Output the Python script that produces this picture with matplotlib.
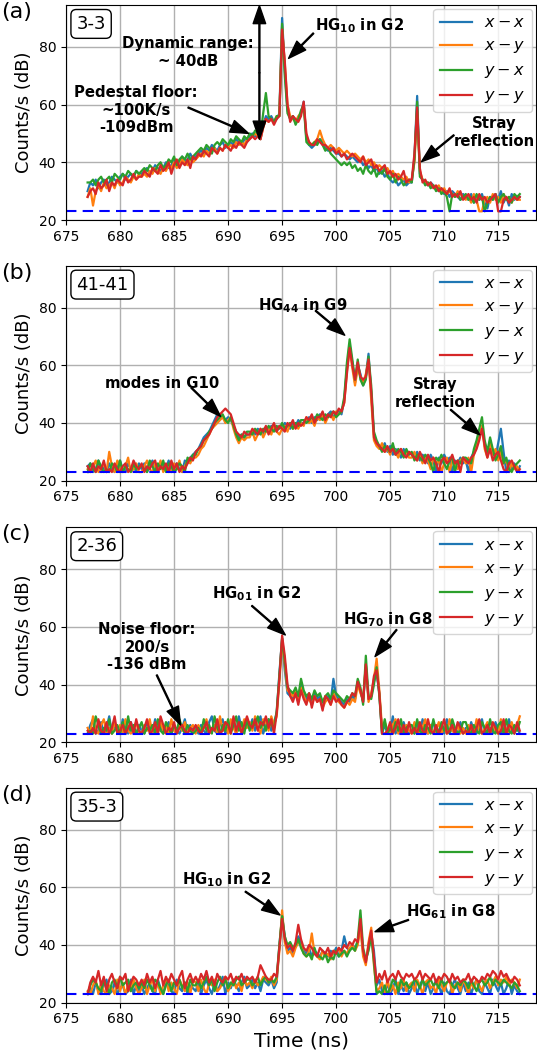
import numpy as np
import matplotlib
matplotlib.use("Agg")
import matplotlib.pyplot as plt

# time axis: 677 .. 717 ns, 0.25 ns step
t0, dt = 677.0, 0.25

# ---------------- panel (a) 3-3 ----------------
a_xx = [30,33,32,34,31,33,34,32,33,35,34,33,35,36,34,35,36,35,37,36,
        36,37,38,36,37,39,38,37,38,40,38,39,41,39,40,42,40,41,43,41,
        42,43,44,43,45,44,46,45,44,46,47,45,46,47,46,48,47,46,48,47,
        49,50,49,50,48,53,56,55,56,54,55,57,90,72,58,55,56,54,55,57,
        61,48,46,45,46,47,48,47,45,44,45,44,43,43,42,43,42,41,42,41,
        40,41,39,40,38,39,37,38,36,37,35,36,34,33,34,32,33,34,32,33,
        33,42,63,36,34,33,32,33,32,31,30,31,29,30,28,30,29,28,27,29,
        28,27,29,26,28,27,29,26,24,28,27,29,27,30,26,28,25,29,27,28,28]
a_xy = [28,31,25,30,32,30,33,31,32,33,31,34,32,33,35,34,33,35,34,36,
        35,36,35,37,36,38,37,36,38,37,39,38,40,38,39,41,40,39,41,40,
        41,42,43,42,44,43,44,45,43,45,44,46,45,46,45,47,46,47,46,48,
        48,49,50,49,48,52,55,54,55,54,56,56,87,74,60,56,55,54,56,57,
        60,49,47,46,47,48,51,48,46,45,46,45,44,45,44,43,44,43,42,43,
        42,41,42,40,41,39,40,38,39,38,37,38,36,37,35,36,35,34,35,33,
        34,40,58,37,34,33,33,32,32,31,32,30,31,29,30,29,28,30,29,28,
        27,28,26,29,27,23,23,27,28,26,29,27,28,26,29,27,28,26,28,27,27]
a_yx = [33,33,34,32,34,35,33,34,35,33,36,35,34,36,35,37,36,35,37,36,
        37,38,37,39,38,37,39,40,38,39,41,40,42,39,41,42,41,43,41,42,
        43,44,45,44,46,45,43,46,47,46,48,47,46,48,47,49,48,47,49,48,
        50,49,51,50,49,57,64,56,55,54,56,56,88,70,57,55,56,53,55,58,
        60,47,46,46,47,46,48,46,44,45,43,42,41,40,39,40,39,40,38,39,
        37,38,36,39,37,36,38,35,37,36,38,35,34,36,33,35,34,32,33,34,
        33,41,61,35,34,32,33,31,32,30,31,29,30,28,23,29,28,29,27,28,
        29,27,28,26,29,27,28,23,26,28,27,29,26,28,29,27,28,26,29,28,29]
a_yy = [28,30,31,29,33,31,32,34,30,33,32,34,33,32,35,33,34,36,34,35,
        35,37,36,35,38,37,36,39,37,38,40,36,39,41,38,40,39,41,38,42,
        41,43,42,44,43,42,45,44,43,45,44,46,45,44,46,45,47,46,45,47,
        48,49,48,49,48,52,55,54,55,53,55,56,86,75,60,54,56,55,54,56,
        61,50,47,46,46,48,47,46,46,45,44,45,43,44,42,43,41,42,43,42,
        41,40,42,39,40,41,38,39,37,38,39,36,37,35,36,34,35,37,33,34,
        34,43,59,38,33,34,32,33,31,32,30,31,30,29,31,28,29,28,30,27,
        28,29,27,28,26,29,27,28,26,27,28,29,23,23,27,28,26,27,28,27,28]

# ---------------- panel (b) 41-41 ----------------
b_xx = [25,26,23,24,27,23,25,23,26,24,23,25,27,24,23,26,24,25,23,26,
        24,26,23,25,27,24,23,26,25,24,27,23,25,26,24,23,27,26,28,29,
        30,31,33,35,36,37,39,41,43,42,42,41,42,41,39,37,35,36,35,36,
        36,37,36,38,37,36,38,37,39,38,37,39,38,40,39,38,40,39,41,40,
        40,41,42,40,42,41,43,42,41,43,44,42,43,44,43,48,59,67,61,54,
        60,57,53,56,64,50,36,33,32,31,33,30,32,29,31,30,28,31,29,30,
        29,28,30,27,29,28,26,29,27,23,28,26,29,27,28,23,27,26,28,26,
        27,23,28,30,33,36,38,33,29,34,30,28,33,38,30,23,27,24,26,23,25]
b_xy = [24,23,25,27,23,24,26,23,30,25,23,27,24,23,25,28,23,24,26,23,
        23,25,27,24,23,26,24,27,23,25,24,23,26,24,27,23,25,27,26,28,
        28,29,31,32,34,36,38,39,40,41,42,40,41,42,38,35,33,35,34,35,
        35,37,34,36,38,35,37,38,36,39,37,36,38,39,37,40,38,39,38,40,
        39,42,40,41,39,42,41,43,40,42,43,41,44,43,44,47,58,66,59,53,
        59,56,54,57,62,48,34,32,31,33,30,31,29,32,30,28,31,29,30,28,
        28,30,27,29,26,28,27,24,28,26,27,23,26,28,23,27,26,24,27,28,
        26,28,23,29,32,35,39,31,28,33,29,31,27,30,26,27,23,26,24,25,23]
b_yx = [23,26,24,23,27,25,23,24,23,26,25,23,27,23,25,24,23,26,24,25,
        25,24,23,27,25,23,26,24,27,23,26,25,23,24,26,25,23,28,27,29,
        29,31,32,34,35,37,38,40,41,42,43,41,40,42,39,36,34,36,35,37,
        37,36,38,37,36,38,37,39,38,37,39,38,40,38,39,40,38,40,39,41,
        41,40,41,42,41,43,42,41,43,42,43,44,42,43,44,49,61,69,62,55,
        62,55,53,55,63,53,37,34,32,30,32,31,30,33,29,31,30,28,31,29,
        30,27,29,28,27,29,28,26,23,28,27,29,26,24,27,28,23,27,26,28,
        28,27,26,31,34,38,42,34,30,35,31,27,29,32,26,28,24,23,25,26,27]
b_yy = [25,23,26,23,25,24,27,23,24,23,26,24,23,25,26,23,24,27,25,24,
        26,23,25,24,26,27,23,25,24,26,23,27,24,26,23,25,24,26,28,27,
        30,31,32,34,35,36,38,40,42,43,44,45,44,43,40,37,36,35,37,36,
        36,38,37,36,38,37,39,36,38,40,37,39,38,37,40,39,41,38,40,39,
        40,42,41,43,40,42,42,44,41,43,42,44,43,45,44,47,57,66,60,55,
        61,56,55,56,62,51,35,33,32,31,30,32,30,31,29,30,31,29,28,30,
        29,28,27,30,28,26,29,27,28,26,23,27,28,26,27,29,26,27,23,28,
        27,26,28,29,31,34,38,32,28,31,27,29,30,27,24,23,26,27,25,23,24]

# ---------------- panel (c) 2-36 ----------------
c_xx = [23,26,28,23,24,27,23,25,29,23,26,24,23,28,25,23,27,24,23,26,
        24,23,27,25,23,28,24,26,23,25,27,23,26,24,23,25,28,23,26,24,
        25,23,26,24,23,27,29,24,23,26,28,23,25,24,27,23,29,25,24,26,
        25,28,24,27,29,23,26,28,24,27,30,44,56,45,37,36,35,37,34,40,
        37,35,36,34,37,35,36,33,35,36,34,42,36,35,34,33,35,34,36,35,
        41,38,34,46,35,36,41,44,37,23,26,23,24,29,23,25,23,27,24,23,
        24,23,26,23,28,24,23,25,27,23,24,26,23,28,23,25,24,23,27,23,
        25,23,27,24,23,26,28,23,24,25,23,27,24,23,26,23,28,24,23,25,23]
c_xy = [25,23,29,24,23,26,28,23,25,23,27,24,26,23,28,24,23,25,27,23,
        23,26,24,28,23,25,23,27,24,26,23,28,24,23,26,24,27,23,25,26,
        23,26,24,25,28,23,24,26,23,29,24,27,23,28,25,23,26,24,28,25,
        27,24,29,25,23,28,27,24,29,26,29,41,55,47,38,37,36,38,35,39,
        36,34,35,33,36,34,35,32,34,35,33,37,35,34,33,32,34,33,35,34,
        40,37,35,47,34,37,42,49,38,25,27,24,23,26,28,23,25,23,26,24,
        23,27,24,23,25,28,23,26,23,24,27,23,25,23,28,24,23,26,23,25,
        23,26,24,23,28,24,23,25,27,23,26,24,23,28,23,25,23,27,24,26,29]
c_yx = [23,24,23,29,26,23,25,24,28,23,24,26,23,27,23,29,24,26,23,25,
        27,23,25,24,26,23,28,24,23,27,25,23,26,24,28,25,23,26,24,23,
        24,25,23,28,24,26,23,29,25,23,26,24,28,23,26,29,24,27,23,28,
        24,27,26,29,25,27,24,28,26,25,31,43,56,48,39,38,37,39,36,42,
        38,36,37,35,38,36,37,34,36,37,35,38,37,36,35,34,36,35,37,36,
        42,39,33,50,36,35,40,46,36,23,28,23,25,23,27,24,28,23,25,26,
        26,23,28,24,23,26,25,23,28,24,23,27,24,26,23,28,25,23,24,27,
        27,24,23,26,24,23,27,25,23,28,24,23,26,27,23,28,24,23,26,24,27]
c_yy = [24,23,25,23,28,24,23,27,23,25,29,23,24,26,23,25,27,23,28,24,
        23,25,28,23,24,27,23,29,26,23,25,24,27,23,25,26,24,23,25,24,
        26,24,23,25,27,23,25,24,28,23,24,27,26,23,29,24,27,23,26,29,
        26,25,28,24,27,26,29,25,28,23,30,42,57,50,40,36,34,37,33,38,
        35,33,37,32,36,34,35,31,36,35,33,36,34,35,33,32,34,35,37,36,
        41,38,34,47,35,36,43,45,37,23,23,24,27,23,25,28,23,26,23,27,
        23,25,23,27,24,23,28,24,23,26,23,25,28,23,24,26,23,27,25,23,
        24,23,26,23,25,28,23,24,26,23,27,25,23,24,28,23,26,25,23,27,24]

# ---------------- panel (d) 35-3 ----------------
d_xx = [23,25,23,27,24,23,26,28,23,24,27,23,25,26,23,24,28,23,26,24,
        26,23,25,27,24,23,28,25,23,27,26,24,23,28,25,24,27,23,26,25,
        24,27,23,26,28,25,23,27,24,26,29,23,27,25,28,26,24,27,29,25,
        26,28,25,27,24,28,27,26,28,25,27,40,50,43,38,39,37,40,43,41,
        38,37,39,36,38,37,36,38,37,36,38,37,39,36,38,43,39,38,40,39,
        41,47,37,34,39,44,38,26,28,24,23,27,23,25,28,23,26,24,27,23,
        25,27,23,26,28,24,27,23,25,28,26,23,27,24,23,26,28,25,23,27,
        24,27,23,26,28,24,23,27,25,23,28,26,24,27,23,25,28,23,26,24,23]
d_xy = [24,23,26,28,23,27,24,23,26,25,23,28,24,27,23,26,24,28,25,23,
        25,28,23,26,28,24,27,23,26,28,24,27,25,23,28,26,24,27,23,28,
        27,24,28,25,23,27,26,28,24,25,27,29,24,26,28,25,27,24,28,26,
        27,25,28,26,27,29,28,27,29,26,28,38,52,41,37,38,36,39,41,40,
        37,36,38,44,37,36,35,38,36,37,35,38,37,39,36,38,37,39,40,38,
        40,46,36,33,41,46,33,24,25,27,23,28,24,26,23,27,25,28,24,26,
        27,24,28,26,23,27,28,25,26,23,28,26,24,27,28,23,26,27,24,28,
        26,23,27,25,28,26,24,27,28,25,27,29,26,28,27,29,26,28,27,25,28]
d_yx = [23,26,28,27,25,24,28,26,23,27,28,25,29,26,27,28,24,26,27,25,
        27,25,28,26,24,28,27,25,23,26,28,24,27,26,28,25,27,24,28,26,
        26,28,25,27,29,26,28,24,27,29,26,28,25,27,26,28,29,26,27,28,
        28,26,27,29,26,28,29,27,28,27,29,40,50,43,40,41,39,40,42,39,
        37,36,37,35,39,36,36,35,37,34,36,35,38,36,37,38,36,38,39,38,
        42,52,39,35,38,43,34,23,24,23,26,23,25,28,27,24,28,26,27,25,
        26,28,27,25,28,26,27,28,26,27,25,28,26,27,28,26,25,27,26,28,
        27,25,28,26,24,27,28,26,27,29,26,28,27,26,28,27,26,25,27,26,24]
d_yy = [23,27,29,27,31,26,29,24,28,30,27,25,29,28,30,24,27,29,28,26,
        28,26,30,27,29,25,28,31,26,29,27,30,28,26,29,31,25,28,30,27,
        29,27,30,28,31,27,29,26,30,28,27,29,28,30,27,29,28,30,27,29,
        28,29,27,29,33,31,29,28,28,30,29,39,49,42,39,40,38,41,47,42,
        39,38,40,39,37,36,39,38,37,39,36,38,37,39,38,40,39,41,40,42,
        41,49,38,34,40,45,36,27,30,28,31,27,29,30,28,31,29,28,30,29,
        30,28,29,31,28,30,29,28,30,27,29,28,30,29,27,30,28,29,27,28,
        28,30,27,29,28,27,29,28,30,29,31,30,28,31,29,30,28,27,29,28,26]

series_labels = [r'$x-x$', r'$x-y$', r'$y-x$', r'$y-y$']
series_colors = ['#1f77b4', '#ff7f0e', '#2ca02c', '#d62728']
panel_tags = ['(a)', '(b)', '(c)', '(d)']
panel_names = ['3-3', '41-41', '2-36', '35-3']
panels = [[a_xx, a_xy, a_yx, a_yy], [b_xx, b_xy, b_yx, b_yy],
          [c_xx, c_xy, c_yx, c_yy], [d_xx, d_xy, d_yx, d_yy]]
noise_floor = 23
xticks = [675, 680, 685, 690, 695, 700, 705, 710, 715]
yticks = [20, 40, 60, 80]

W, H = 537, 1059
fig = plt.figure(figsize=(W / 100, H / 100), dpi=100)
ax_left, ax_w = 66 / W, 470 / W
ax_h = 215 / H
bottoms_px = [220, 480.7, 742.3, 1002.7]

def arrow(ax, head, tail):
    ax.annotate('', xy=head, xytext=tail, zorder=7,
                arrowprops=dict(facecolor='black', edgecolor='black',
                                width=0.7, headwidth=9, headlength=13, shrink=0))

def label(ax, x, y, s):
    ax.text(x, y, s, ha='center', va='center', fontweight='bold', fontsize=10.7,
            linespacing=1.2, zorder=7)

axes = []
for k in range(4):
    ax = fig.add_axes([ax_left, 1 - bottoms_px[k] / H, ax_w, ax_h])
    axes.append(ax)
    for ys, lab, col in zip(panels[k], series_labels, series_colors):
        tt = t0 + dt * np.arange(len(ys))
        ax.plot(tt, ys, color=col, lw=1.6, label=lab)
    ax.axhline(noise_floor, color='blue', ls='--', lw=1.5, dashes=(5, 3))
    ax.set_xlim(675, 718.5)
    ax.set_ylim(20, 94.5)
    ax.set_xticks(xticks)
    ax.set_yticks(yticks)
    ax.tick_params(labelsize=10)
    ax.grid(True, color='#b0b0b0', lw=1)
    ax.set_axisbelow(True)
    ax.set_ylabel('Counts/s (dB)', fontsize=13)
    ax.legend(loc='upper right', fontsize=11.5, handlelength=2.0,
              borderaxespad=0.25, labelspacing=0.5)
    ax.text(0.022, 0.912, panel_names[k], transform=ax.transAxes, fontsize=13,
            ha='left', va='center',
            bbox=dict(boxstyle='round,pad=0.3', fc='white', ec='black', lw=1))
    top_px = bottoms_px[k] - 215
    fig.text(1 / W, 1 - (top_px + 7) / H, panel_tags[k], fontsize=16,
             ha='left', va='center')

ax = axes[0]
label(ax, 686.3, 78, 'Dynamic range:\n~ 40dB')
arrow(ax, (692.9, 94.3), (692.9, 71))
arrow(ax, (692.9, 48), (692.9, 71))
label(ax, 681.5, 58, 'Pedestal floor:\n~100K/s\n-109dBm')
arrow(ax, (691.9, 50), (686.3, 59))
label(ax, 702.2, 87.5, r'HG$_\mathbf{10}$ in G2')
arrow(ax, (695.6, 76), (697.9, 84.7))
label(ax, 714.6, 50.3, 'Stray\nreflection')
arrow(ax, (707.9, 40.2), (710.9, 49.4))

ax = axes[1]
label(ax, 683.9, 53.7, 'modes in G10')
arrow(ax, (689.3, 42.3), (686.6, 52.2))
label(ax, 696.9, 80.6, r'HG$_\mathbf{44}$ in G9')
arrow(ax, (700.8, 70.4), (698.1, 78.9))
label(ax, 709.2, 50.2, 'Stray\nreflection')
arrow(ax, (713.3, 35.9), (710.6, 44.6))

ax = axes[2]
label(ax, 682.5, 53, 'Noise floor:\n200/s\n-136 dBm')
arrow(ax, (685.6, 26), (683.4, 43.3))
label(ax, 692.6, 71.6, r'HG$_\mathbf{01}$ in G2')
arrow(ax, (695.3, 57.2), (692.2, 67.3))
label(ax, 704.8, 62.5, r'HG$_\mathbf{70}$ in G8')
arrow(ax, (703.6, 49.7), (705.6, 59))

ax = axes[3]
label(ax, 689.9, 62.6, r'HG$_\mathbf{10}$ in G2')
arrow(ax, (694.8, 50.4), (691.6, 58.5))
label(ax, 710.6, 51.6, r'HG$_\mathbf{61}$ in G8')
arrow(ax, (703.6, 44.6), (706.7, 48.7))
ax.set_xlabel('Time (ns)', fontsize=14.5)

fig.savefig('out.png', dpi=100)
